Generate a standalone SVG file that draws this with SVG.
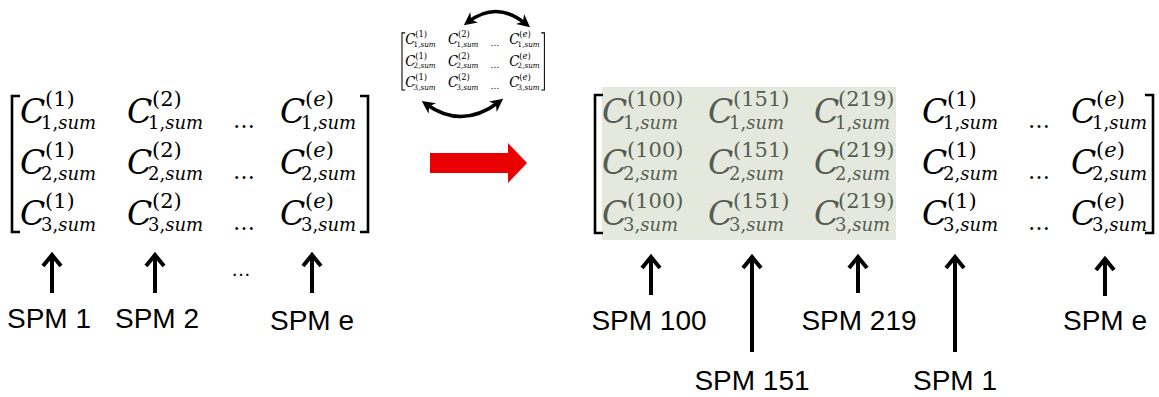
<svg xmlns="http://www.w3.org/2000/svg" width="1159" height="397" viewBox="0 0 1159 397">
<style>
.c{font-family:"DejaVu Serif",serif;font-style:italic;font-size:33px}
.sp{font-family:"DejaVu Serif",serif;font-size:21px}
.sb{font-family:"DejaVu Serif",serif;font-size:18px}
.it{font-style:italic}
.dots{font-family:"DejaVu Serif",serif;font-size:22px}
.br{fill:none;stroke:#000;stroke-width:2.6}
.g text{fill:#555d52}
.lbl{font-family:"Liberation Sans",Arial,sans-serif;font-size:28px;text-anchor:middle;fill:#000}
.va{fill:none;stroke:#000;stroke-width:4}
.arc{fill:none;stroke:#000;stroke-width:3.5}
</style>
<defs>
<marker id="ah" viewBox="0 0 10 10" refX="6" refY="5" markerWidth="13" markerHeight="13" markerUnits="userSpaceOnUse" orient="auto-start-reverse">
<path d="M0,0 L10,5 L0,10 L3,5 z" fill="#000"/>
</marker>
</defs>

<g id="matrix-left">
<path class="br" d="M20,96 H12 V232 H20"/>
<path class="br" d="M360,96 H368 V232 H360"/>
<text x="20" y="123" class="c">C</text><text x="45" y="106" class="sp">(1)</text><text x="41" y="129" class="sb">1,<tspan class="it">sum</tspan></text>
<text x="127" y="123" class="c">C</text><text x="152" y="106" class="sp">(2)</text><text x="148" y="129" class="sb">1,<tspan class="it">sum</tspan></text>
<text x="233" y="128" class="dots">…</text>
<text x="280" y="123" class="c">C</text><text x="305" y="106" class="sp">(<tspan class="it">e</tspan>)</text><text x="301" y="129" class="sb">1,<tspan class="it">sum</tspan></text>
<text x="20" y="174" class="c">C</text><text x="45" y="157" class="sp">(1)</text><text x="41" y="180" class="sb">2,<tspan class="it">sum</tspan></text>
<text x="127" y="174" class="c">C</text><text x="152" y="157" class="sp">(2)</text><text x="148" y="180" class="sb">2,<tspan class="it">sum</tspan></text>
<text x="233" y="179" class="dots">…</text>
<text x="280" y="174" class="c">C</text><text x="305" y="157" class="sp">(<tspan class="it">e</tspan>)</text><text x="301" y="180" class="sb">2,<tspan class="it">sum</tspan></text>
<text x="20" y="225" class="c">C</text><text x="45" y="208" class="sp">(1)</text><text x="41" y="231" class="sb">3,<tspan class="it">sum</tspan></text>
<text x="127" y="225" class="c">C</text><text x="152" y="208" class="sp">(2)</text><text x="148" y="231" class="sb">3,<tspan class="it">sum</tspan></text>
<text x="233" y="230" class="dots">…</text>
<text x="280" y="225" class="c">C</text><text x="305" y="208" class="sp">(<tspan class="it">e</tspan>)</text><text x="301" y="231" class="sb">3,<tspan class="it">sum</tspan></text>
</g>

<g id="matrix-small" transform="translate(397.2,-7.4) scale(0.4,0.42)">
<path class="br" d="M20,96 H12 V232 H20"/>
<path class="br" d="M360,96 H368 V232 H360"/>
<text x="20" y="123" class="c">C</text><text x="45" y="106" class="sp">(1)</text><text x="41" y="129" class="sb">1,<tspan class="it">sum</tspan></text>
<text x="127" y="123" class="c">C</text><text x="152" y="106" class="sp">(2)</text><text x="148" y="129" class="sb">1,<tspan class="it">sum</tspan></text>
<text x="233" y="128" class="dots">…</text>
<text x="280" y="123" class="c">C</text><text x="305" y="106" class="sp">(<tspan class="it">e</tspan>)</text><text x="301" y="129" class="sb">1,<tspan class="it">sum</tspan></text>
<text x="20" y="174" class="c">C</text><text x="45" y="157" class="sp">(1)</text><text x="41" y="180" class="sb">2,<tspan class="it">sum</tspan></text>
<text x="127" y="174" class="c">C</text><text x="152" y="157" class="sp">(2)</text><text x="148" y="180" class="sb">2,<tspan class="it">sum</tspan></text>
<text x="233" y="179" class="dots">…</text>
<text x="280" y="174" class="c">C</text><text x="305" y="157" class="sp">(<tspan class="it">e</tspan>)</text><text x="301" y="180" class="sb">2,<tspan class="it">sum</tspan></text>
<text x="20" y="225" class="c">C</text><text x="45" y="208" class="sp">(1)</text><text x="41" y="231" class="sb">3,<tspan class="it">sum</tspan></text>
<text x="127" y="225" class="c">C</text><text x="152" y="208" class="sp">(2)</text><text x="148" y="231" class="sb">3,<tspan class="it">sum</tspan></text>
<text x="233" y="230" class="dots">…</text>
<text x="280" y="225" class="c">C</text><text x="305" y="208" class="sp">(<tspan class="it">e</tspan>)</text><text x="301" y="231" class="sb">3,<tspan class="it">sum</tspan></text>
</g>

<g id="red-arrow">
<polygon points="430,153 508,153 508,143 527,163 508,183 508,173 430,173" fill="#ea0000"/>
</g>

<g id="matrix-right">
<rect x="602" y="87" width="294" height="153" fill="#e5e9dd"/>
<path class="br" d="M603,95 H595 V233 H603"/>
<path class="br" d="M1145,95 H1153 V233 H1145"/>
<g class="g">
<text x="602" y="123" class="c">C</text><text x="627" y="106" class="sp">(100)</text><text x="623" y="129" class="sb">1,<tspan class="it">sum</tspan></text>
<text x="708" y="123" class="c">C</text><text x="733" y="106" class="sp">(151)</text><text x="729" y="129" class="sb">1,<tspan class="it">sum</tspan></text>
<text x="814" y="123" class="c">C</text><text x="838" y="106" class="sp">(219)</text><text x="835" y="129" class="sb">1,<tspan class="it">sum</tspan></text>
<text x="602" y="174" class="c">C</text><text x="627" y="157" class="sp">(100)</text><text x="623" y="180" class="sb">2,<tspan class="it">sum</tspan></text>
<text x="708" y="174" class="c">C</text><text x="733" y="157" class="sp">(151)</text><text x="729" y="180" class="sb">2,<tspan class="it">sum</tspan></text>
<text x="814" y="174" class="c">C</text><text x="838" y="157" class="sp">(219)</text><text x="835" y="180" class="sb">2,<tspan class="it">sum</tspan></text>
<text x="602" y="225" class="c">C</text><text x="627" y="208" class="sp">(100)</text><text x="623" y="231" class="sb">3,<tspan class="it">sum</tspan></text>
<text x="708" y="225" class="c">C</text><text x="733" y="208" class="sp">(151)</text><text x="729" y="231" class="sb">3,<tspan class="it">sum</tspan></text>
<text x="814" y="225" class="c">C</text><text x="838" y="208" class="sp">(219)</text><text x="835" y="231" class="sb">3,<tspan class="it">sum</tspan></text>
</g>
<text x="922" y="123" class="c">C</text><text x="947" y="106" class="sp">(1)</text><text x="943" y="129" class="sb">1,<tspan class="it">sum</tspan></text>
<text x="1028" y="128" class="dots">…</text>
<text x="1071" y="123" class="c">C</text><text x="1096" y="106" class="sp">(<tspan class="it">e</tspan>)</text><text x="1092" y="129" class="sb">1,<tspan class="it">sum</tspan></text>
<text x="922" y="174" class="c">C</text><text x="947" y="157" class="sp">(1)</text><text x="943" y="180" class="sb">2,<tspan class="it">sum</tspan></text>
<text x="1028" y="179" class="dots">…</text>
<text x="1071" y="174" class="c">C</text><text x="1096" y="157" class="sp">(<tspan class="it">e</tspan>)</text><text x="1092" y="180" class="sb">2,<tspan class="it">sum</tspan></text>
<text x="922" y="225" class="c">C</text><text x="947" y="208" class="sp">(1)</text><text x="943" y="231" class="sb">3,<tspan class="it">sum</tspan></text>
<text x="1028" y="230" class="dots">…</text>
<text x="1071" y="225" class="c">C</text><text x="1096" y="208" class="sp">(<tspan class="it">e</tspan>)</text><text x="1092" y="231" class="sb">3,<tspan class="it">sum</tspan></text>
</g>

<g id="connectors">
<path class="arc" d="M468,22 Q497,0 526,24" marker-start="url(#ah)" marker-end="url(#ah)"/>
<path class="arc" d="M426,104 Q462,130 499,102" marker-start="url(#ah)" marker-end="url(#ah)"/>
<path class="va" d="M52,293 V255 M43,266 L52,255 L61,266"/>
<path class="va" d="M155,293 V255 M146,266 L155,255 L164,266"/>
<path class="va" d="M312,293 V255 M303,266 L312,255 L321,266"/>
<path class="va" d="M651,295 V257 M642,268 L651,257 L660,268"/>
<path class="va" d="M752,352 V257 M743,268 L752,257 L761,268"/>
<path class="va" d="M858,293 V257 M849,268 L858,257 L867,268"/>
<path class="va" d="M955,352 V257 M946,268 L955,257 L964,268"/>
<path class="va" d="M1105,296 V259 M1096,270 L1105,259 L1114,270"/>
</g>

<g id="labels">
<text x="49" y="328" class="lbl">SPM 1</text>
<text x="157" y="328" class="lbl">SPM 2</text>
<text x="241" y="276" class="lbl" style="font-size:20px">…</text>
<text x="312" y="330" class="lbl">SPM e</text>
<text x="649" y="330" class="lbl">SPM 100</text>
<text x="752" y="390" class="lbl">SPM 151</text>
<text x="859" y="330" class="lbl">SPM 219</text>
<text x="955" y="390" class="lbl">SPM 1</text>
<text x="1105" y="330" class="lbl">SPM e</text>
</g>
</svg>
